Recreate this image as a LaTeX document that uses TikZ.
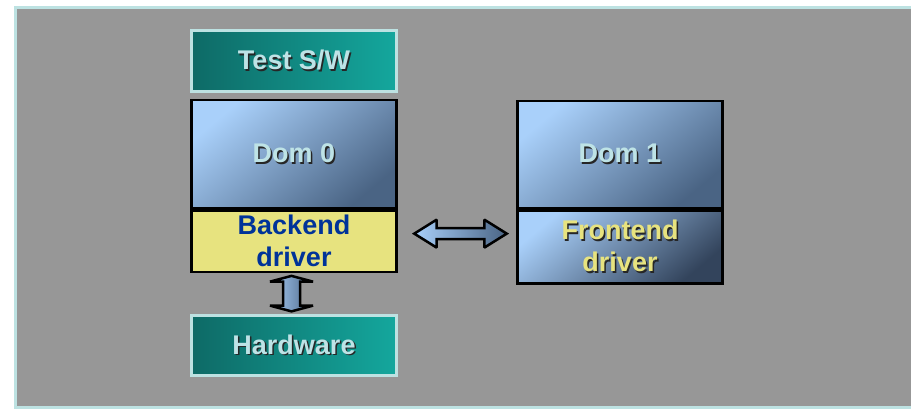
\documentclass[tikz,border=0pt]{standalone}
\usepackage{fontspec}
\setmainfont{Liberation Sans}
\usetikzlibrary{shapes.arrows,calc}

\definecolor{panelgray}{HTML}{979797}
\definecolor{panelrim}{HTML}{BDE2E2}
\definecolor{tealdark}{HTML}{0E6A66}
\definecolor{teallight}{HTML}{14A79D}
\definecolor{domlight}{HTML}{A9D0FA}
\definecolor{domdark}{HTML}{4A6484}
\definecolor{drvdark}{HTML}{33445C}
\definecolor{drvyellow}{HTML}{E7E37F}
\definecolor{drvblue}{HTML}{003399}
\definecolor{labelcyan}{HTML}{BEE3E6}
\definecolor{shadowcol}{HTML}{262626}

% label with a small dark drop shadow
\newcommand{\shadowed}[1]{\rlap{\kern1.5pt\raisebox{-1.5pt}{\textcolor{shadowcol}{#1}}}#1}

\tikzset{
  boxfont/.style={font=\bfseries\fontsize{27}{32}\selectfont, align=center},
  hwbox/.style={boxfont, draw=panelrim, line width=2.5pt,
    left color=tealdark, right color=teallight,
    minimum width=205pt, inner sep=0pt, text=labelcyan},
  plainbox/.style={boxfont, draw=black, line width=2.5pt,
    minimum width=205pt, inner sep=0pt, anchor=north},
  dombox/.style={plainbox, top color=domlight, bottom color=domdark,
    shading angle=40, text=labelcyan},
  linkarrow/.style={double arrow, draw=black, line width=2.5pt, miter limit=2,
    left color=domlight, right color=domdark}
}

\begin{document}
\begin{tikzpicture}[x=1pt,y=-1pt]
\useasboundingbox (0,0) rectangle (911,413);
\fill[white] (0,0) rectangle (911,413);
% grey slide panel
\draw[panelrim, line width=3pt, fill=panelgray] (930,7.5) -- (15.5,7.5) -- (15.5,407.5) -- (930,407.5);

% left column
\node (testsw) [hwbox, minimum height=61pt] at (294,61) {\shadowed{Test S/W}};
\node (dom0) [dombox, minimum height=108.5pt] at (294,98.5) {\shadowed{Dom 0}};
\node (backend) [plainbox, fill=drvyellow, text=drvblue, minimum height=61pt]
  at (dom0.south) {Backend\\driver};
\node (hardware) [hwbox, minimum height=60pt] at (294,345.5) {\shadowed{Hardware}};

% right column
\node (dom1) [dombox, minimum height=107.5pt] at (620,99.5) {\shadowed{Dom 1}};
\node (frontend) [dombox, bottom color=drvdark, shading angle=40, text=drvyellow, minimum height=72.5pt]
  at (dom1.south) {\shadowed{Frontend}\\\shadowed{driver}};

% links
\node (hlink) [linkarrow, inner sep=4.25pt, minimum height=92.5pt, minimum width=25.5pt,
  double arrow head extend=8.5pt, double arrow tip angle=64]
  at ($($(backend.east)!0.5!(frontend.west)$)+(3.5,-10.5)$) {};
\node (vlink) [linkarrow, shape border rotate=90, inner sep=7.25pt,
  minimum height=35.5pt,
  double arrow head extend=13pt, double arrow tip angle=150]
  at ($($(backend.south)!0.5!(hardware.north)$)+(-2.5,0)$) {};
\end{tikzpicture}
\end{document}
